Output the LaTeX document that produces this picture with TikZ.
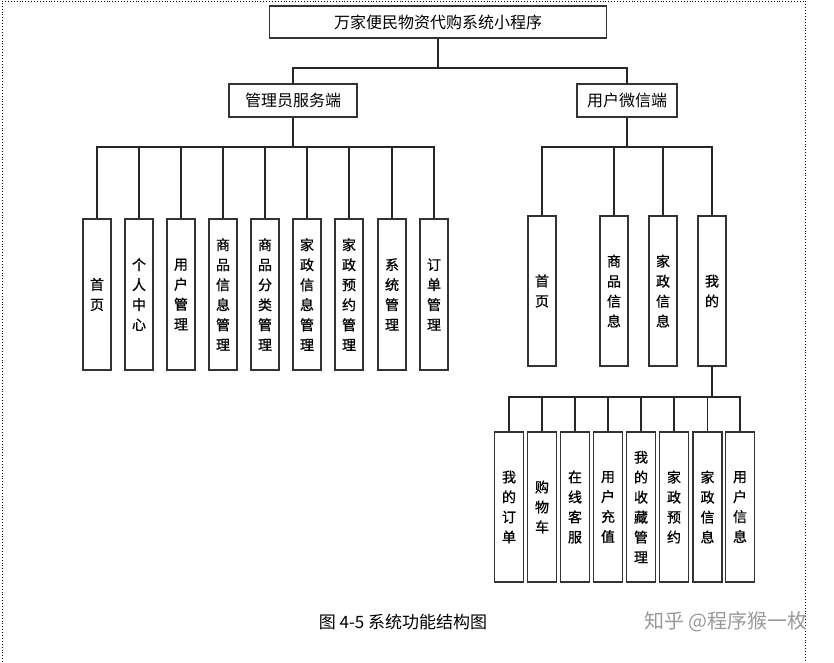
\documentclass[tikz,border=0pt]{standalone}
\usepackage{fontspec}
\setmainfont{Noto Sans CJK SC}
\newfontfamily\leaffont[FakeBold=0.8]{Noto Sans CJK SC}
\begin{document}
\begin{tikzpicture}[x=1pt,y=-1pt,
  box/.style={draw=black!80, line width=1.4pt, inner sep=0pt, fill=white},
  topbox/.style={box, minimum width=337pt, minimum height=32pt, font=\fontsize{16}{16}\selectfont},
  midbox/.style={box, minimum height=33pt, font=\fontsize{16}{16}\selectfont},
  leaf/.style={box, minimum width=28pt, minimum height=151pt, align=center, font=\leaffont\fontsize{14}{20}\selectfont},
  leafb/.style={leaf, minimum height=150pt},
  conn/.style={draw=black!85, line width=1.2pt}]
\useasboundingbox (0,0) rectangle (834,662);
\draw[dotted, line width=0.9pt] (2,662) -- (2,1) -- (805,1) -- (805,662);

\node[topbox] (top) at (438,22) {万家便民物资代购系统小程序};
\node[midbox, minimum width=128pt] (admin) at (293,100.5) {管理员服务端};
\node[midbox, minimum width=100pt] (user) at (627,100.5) {用户微信端};

\coordinate (bus1) at (438,68);
\coordinate (abus) at (293,147);
\coordinate (ubus) at (627,147);
\coordinate (mbus) at (712,397);

% admin leaves
\node[leaf] (a1) at (97,294.5) {首\\页};
\node[leaf] (a2) at (139,294.5) {个\\人\\中\\心};
\node[leaf] (a3) at (181,294.5) {用\\户\\管\\理};
\node[leaf] (a4) at (223,294.5) {商\\品\\信\\息\\管\\理};
\node[leaf] (a5) at (265,294.5) {商\\品\\分\\类\\管\\理};
\node[leaf] (a6) at (307,294.5) {家\\政\\信\\息\\管\\理};
\node[leaf] (a7) at (349,294.5) {家\\政\\预\\约\\管\\理};
\node[leaf] (a8) at (392,294.5) {系\\统\\管\\理};
\node[leaf] (a9) at (434,294.5) {订\\单\\管\\理};

% user leaves
\node[leafb] (u1) at (542,291) {首\\页};
\node[leafb] (u2) at (614,291) {商\\品\\信\\息};
\node[leafb] (u3) at (663,291) {家\\政\\信\\息};
\node[leafb] (u4) at (712,291) {我\\的};

% my leaves
\node[leafb, minimum width=29pt] (m1) at (509,507) {我\\的\\订\\单};
\node[leafb, minimum width=29pt] (m2) at (542,507) {购\\物\\车};
\node[leafb, minimum width=29pt] (m3) at (575,507) {在\\线\\客\\服};
\node[leafb, minimum width=29pt] (m4) at (608,507) {用\\户\\充\\值};
\node[leafb, minimum width=29pt] (m5) at (641,507) {我\\的\\收\\藏\\管\\理};
\node[leafb, minimum width=29pt] (m6) at (674,507) {家\\政\\预\\约};
\node[leafb, minimum width=29pt] (m7) at (707.5,507) {家\\政\\信\\息};
\node[leafb, minimum width=29pt] (m8) at (740,507) {用\\户\\信\\息};

% connectors
\draw[conn] (top.south) -- (bus1);
\draw[conn] (admin.north) |- (bus1) -| (user.north);
\draw[conn] (admin.south) -- (abus);
\foreach \n in {a1,a2,a3,a4,a5,a6,a7,a8,a9} \draw[conn] (abus) -| (\n.north);
\draw[conn] (user.south) -- (ubus);
\foreach \n in {u1,u2,u3,u4} \draw[conn] (ubus) -| (\n.north);
\draw[conn] (u4.south) -- (mbus);
\foreach \n in {m1,m2,m3,m4,m5,m6,m7,m8} \draw[conn] (mbus) -| (\n.north);

\node[font=\fontsize{17}{17}\selectfont] (cap) at (403,622) {图 4-5 系统功能结构图};
\node[font=\fontsize{20}{20}\selectfont, text=black!40] (wm) at (726,622) {知乎 @程序猴一枚};
\end{tikzpicture}
\end{document}
